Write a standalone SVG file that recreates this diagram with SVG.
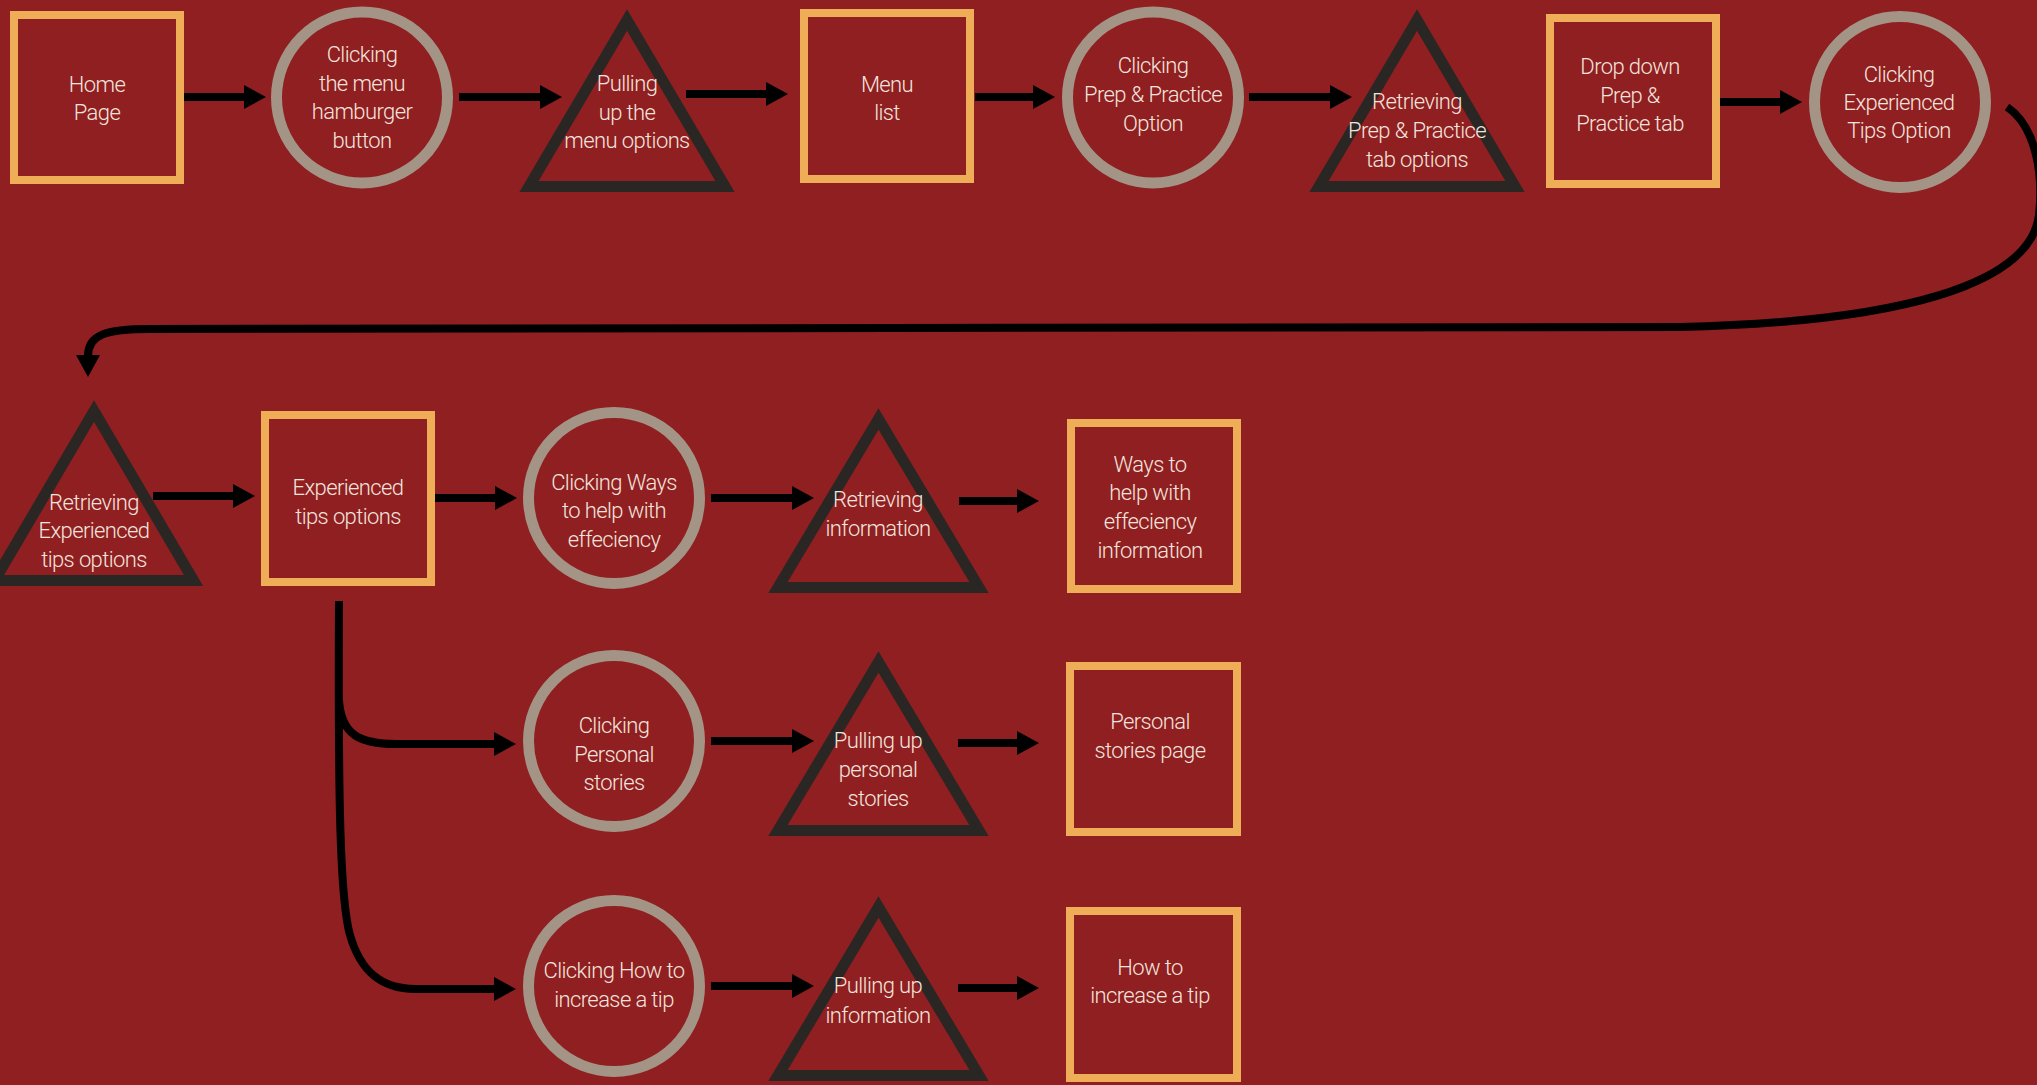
<svg xmlns="http://www.w3.org/2000/svg" width="2037" height="1085" viewBox="0 0 2037 1085">
  <defs>
    <marker id="ah" viewBox="0 0 22 24" markerWidth="22" markerHeight="24" refX="1" refY="12" orient="auto" markerUnits="userSpaceOnUse">
      <path d="M0,0 L22,12 L0,24 Z" fill="#000"/>
    </marker>
    <style>
      .bg { fill: #8F1F20; }
      .box { fill: none; stroke: #EFAD58; stroke-width: 8; }
      .act { fill: none; stroke: #A39485; stroke-width: 11; }
      .proc { fill: none; stroke: #2A2624; stroke-width: 11; stroke-linejoin: miter; }
      .lbl { font-family: Roboto, "Liberation Sans", sans-serif; font-weight: 300; font-size: 22px; letter-spacing: -0.6px; fill: #F3E4DF; text-anchor: middle; }
      .link { fill: none; stroke: #000; stroke-width: 8; marker-end: url(#ah); }
    </style>
  </defs>

  <rect class="bg" x="0" y="0" width="2037" height="1085"/>

  <!-- connectors -->
  <g id="connectors">
    <path class="link" d="M184,97 L245,97"/>
    <path class="link" d="M459,97 L541,97"/>
    <path class="link" d="M686,94 L767,94"/>
    <path class="link" d="M975,97 L1034,97"/>
    <path class="link" d="M1249,97 L1331,97"/>
    <path class="link" d="M1720,102 L1781,102"/>
    <path class="link" d="M2007,107 C2034,125 2044,170 2039,215 C2030,285 1900,322 1680,327 L150,329 C105,329 88,335 88,356"/>
    <path class="link" d="M153,496 L234,496"/>
    <path class="link" d="M435,498 L496,498"/>
    <path class="link" d="M711,498 L793,498"/>
    <path class="link" d="M959,501 L1018,501"/>
    <path class="link" d="M339,700 C341,735 360,744 396,744 L495,744"/>
    <path class="link" d="M339,601 C338,800 340,900 350,935 C360,970 380,989 415,989 L495,989"/>
    <path class="link" d="M711,741 L793,741"/>
    <path class="link" d="M958,743 L1018,743"/>
    <path class="link" d="M711,986 L793,986"/>
    <path class="link" d="M958,988 L1018,988"/>
  </g>

  <!-- row 1 -->
  <g id="home-page">
    <rect class="box" x="14" y="15" width="166" height="165"/>
    <text class="lbl" x="97" y="92">Home</text>
    <text class="lbl" x="97" y="120">Page</text>
  </g>
  <g id="click-hamburger">
    <circle class="act" cx="362" cy="97.5" r="85.5"/>
    <text class="lbl" x="362" y="62">Clicking</text>
    <text class="lbl" x="362" y="90.5">the menu</text>
    <text class="lbl" x="362" y="119">hamburger</text>
    <text class="lbl" x="362" y="147.5">button</text>
  </g>
  <g id="pull-menu-options">
    <path class="proc" d="M627,20 L725,186.5 L529,186.5 Z"/>
    <text class="lbl" x="627" y="91">Pulling</text>
    <text class="lbl" x="627" y="120">up the</text>
    <text class="lbl" x="627" y="148">menu options</text>
  </g>
  <g id="menu-list">
    <rect class="box" x="804" y="13" width="166" height="166"/>
    <text class="lbl" x="887" y="92">Menu</text>
    <text class="lbl" x="887" y="120">list</text>
  </g>
  <g id="click-prep-practice">
    <circle class="act" cx="1153" cy="97.5" r="85.5"/>
    <text class="lbl" x="1153" y="73">Clicking</text>
    <text class="lbl" x="1153" y="102">Prep &amp; Practice</text>
    <text class="lbl" x="1153" y="131">Option</text>
  </g>
  <g id="retrieve-prep-tab">
    <path class="proc" d="M1417,20 L1515,186.5 L1319,186.5 Z"/>
    <text class="lbl" x="1417" y="109">Retrieving</text>
    <text class="lbl" x="1417" y="138">Prep &amp; Practice</text>
    <text class="lbl" x="1417" y="167">tab options</text>
  </g>
  <g id="prep-dropdown">
    <rect class="box" x="1550" y="18" width="166" height="166"/>
    <text class="lbl" x="1630" y="74">Drop down</text>
    <text class="lbl" x="1630" y="103">Prep &amp;</text>
    <text class="lbl" x="1630" y="131">Practice tab</text>
  </g>
  <g id="click-experienced">
    <circle class="act" cx="1900" cy="102" r="85.5"/>
    <text class="lbl" x="1899" y="82">Clicking</text>
    <text class="lbl" x="1899" y="110">Experienced</text>
    <text class="lbl" x="1899" y="138">Tips Option</text>
  </g>

  <!-- row 2 -->
  <g id="retrieve-experienced">
    <path class="proc" d="M94,411 L193.5,580.5 L-5.5,580.5 Z"/>
    <text class="lbl" x="94" y="510">Retrieving</text>
    <text class="lbl" x="94" y="538">Experienced</text>
    <text class="lbl" x="94" y="567">tips options</text>
  </g>
  <g id="experienced-options">
    <rect class="box" x="265" y="415" width="166" height="167"/>
    <text class="lbl" x="348" y="495">Experienced</text>
    <text class="lbl" x="348" y="524">tips options</text>
  </g>
  <g id="click-efficiency">
    <circle class="act" cx="614" cy="498" r="85.5"/>
    <text class="lbl" x="614" y="490">Clicking Ways</text>
    <text class="lbl" x="614" y="518">to help with</text>
    <text class="lbl" x="614" y="547">effeciency</text>
  </g>
  <g id="retrieve-information">
    <path class="proc" d="M878.5,419 L979,587.5 L778,587.5 Z"/>
    <text class="lbl" x="878" y="507">Retrieving</text>
    <text class="lbl" x="878" y="536">information</text>
  </g>
  <g id="efficiency-info">
    <rect class="box" x="1071" y="423" width="166" height="166"/>
    <text class="lbl" x="1150" y="472">Ways to</text>
    <text class="lbl" x="1150" y="500">help with</text>
    <text class="lbl" x="1150" y="529">effeciency</text>
    <text class="lbl" x="1150" y="558">information</text>
  </g>

  <!-- row 3 -->
  <g id="click-personal">
    <circle class="act" cx="614" cy="741" r="85.5"/>
    <text class="lbl" x="614" y="733">Clicking</text>
    <text class="lbl" x="614" y="762">Personal</text>
    <text class="lbl" x="614" y="790">stories</text>
  </g>
  <g id="pull-personal">
    <path class="proc" d="M878.5,662 L979,830.5 L778,830.5 Z"/>
    <text class="lbl" x="878" y="748">Pulling up</text>
    <text class="lbl" x="878" y="777">personal</text>
    <text class="lbl" x="878" y="806">stories</text>
  </g>
  <g id="personal-page">
    <rect class="box" x="1070" y="666" width="167" height="166"/>
    <text class="lbl" x="1150" y="729">Personal</text>
    <text class="lbl" x="1150" y="758">stories page</text>
  </g>

  <!-- row 4 -->
  <g id="click-increase-tip">
    <circle class="act" cx="614" cy="986" r="85.5"/>
    <text class="lbl" x="614" y="978">Clicking How to</text>
    <text class="lbl" x="614" y="1007">increase a tip</text>
  </g>
  <g id="pull-information">
    <path class="proc" d="M878.5,907 L979,1075.5 L778,1075.5 Z"/>
    <text class="lbl" x="878" y="993">Pulling up</text>
    <text class="lbl" x="878" y="1023">information</text>
  </g>
  <g id="increase-tip-page">
    <rect class="box" x="1070" y="911" width="167" height="167"/>
    <text class="lbl" x="1150" y="975">How to</text>
    <text class="lbl" x="1150" y="1003">increase a tip</text>
  </g>
</svg>
